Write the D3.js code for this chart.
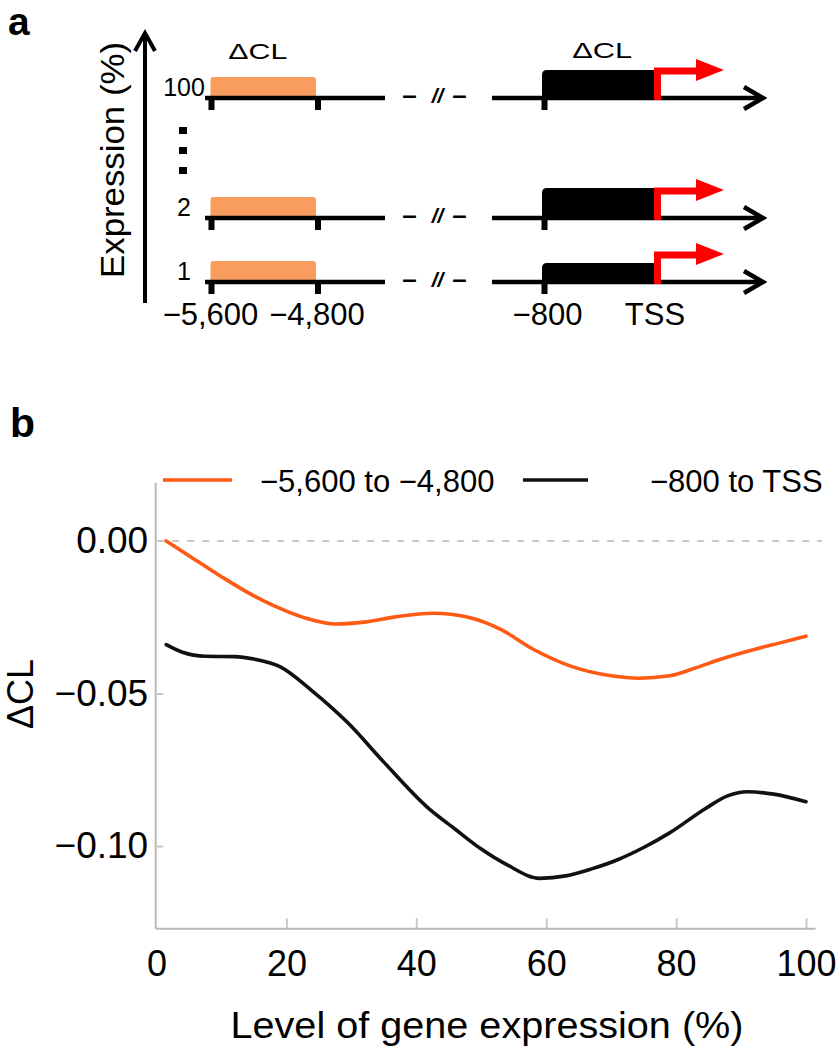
<!DOCTYPE html>
<html><head><meta charset="utf-8">
<script src="https://cdn.jsdelivr.net/npm/d3@7"></script>
<style>
body{margin:0;background:#fff}
svg{display:block}
text{font-family:"Liberation Sans",Arial,Helvetica,sans-serif;fill:#000}
</style>
</head><body>
<script>
// ---------------- data ----------------
// Panel a: schematic rows (expression percentiles) and genomic regions
const rowLevels = ["1", "2", "100"];
const distalRegion = [-5600, -4800];
const proximalRegion = [-800, 0];
const distalTickLabels = ["−5,600", "−4,800"];
const proximalTickLabels = ["−800", "TSS"];
const regionLabel = "ΔCL";
const panelAYLabel = "Expression (%)";

// Panel b: smoothed ΔCL versus level of gene expression
const seriesNames = ["−5,600 to −4,800", "−800 to TSS"];
const distalX = [1.5, 5, 10, 15, 20, 23, 27.5, 32, 37, 42.6, 48, 53, 58, 64, 70, 74.3, 79, 83, 87, 92, 96, 100];
const distalY = [0.000, -0.0048, -0.0117, -0.0180, -0.0230, -0.0253, -0.0272, -0.0266, -0.0248, -0.0237, -0.0250, -0.0290, -0.0355, -0.0412, -0.0442, -0.0450, -0.0442, -0.0416, -0.0387, -0.0356, -0.0334, -0.0312];
const proximalX = [1.5, 4, 7.5, 12, 15, 19, 24, 29.5, 35, 41.8, 46, 50, 54, 59, 63, 67, 71, 75, 79, 84.6, 88, 91, 95, 100];
const proximalY = [-0.0340, -0.0365, -0.0378, -0.0379, -0.0387, -0.0412, -0.0492, -0.0597, -0.0725, -0.0875, -0.0945, -0.1010, -0.1062, -0.1106, -0.1098, -0.1075, -0.1045, -0.1005, -0.0957, -0.0876, -0.0835, -0.0822, -0.0830, -0.0855];
const xTicks = [0, 20, 40, 60, 80, 100];
const yTicks = [0, -0.05, -0.10];
const xExtent = [-0.2, 101.4];
const yExtent = [-0.127, 0.0193];
const xLabel = "Level of gene expression (%)";
const yLabel = "ΔCL";

// ---------------- drawing ----------------
const W = 839, H = 1050;
const FONT = 'Liberation Sans, Arial, sans-serif';
const svg = d3.select("body").append("svg").attr("width", W).attr("height", H);

const ORANGE_BOX = "#f99d5e";
const RED = "#ff0000";
const LINE_ORANGE = "#ff5a14";
const LINE_BLACK = "#111111";
const seriesColors = [LINE_ORANGE, LINE_BLACK];

// ===== Panel a =====
svg.append("text").attr("x", 8).attr("y", 35).attr("font-size", 39).attr("font-weight", "bold").text("a");

const rowY = d3.scaleOrdinal().domain(rowLevels).range([282, 218, 98]);
const xL = d3.scaleLinear().domain(distalRegion).range([211.5, 318]);
const xR = d3.scaleLinear().domain(proximalRegion).range([544.5, 654]);
const boxH = d3.scaleOrdinal().domain(rowLevels).range([19, 30, 28]);

const ga = svg.append("g");

// vertical axis arrow
ga.append("line").attr("x1", 145).attr("x2", 145).attr("y1", 303).attr("y2", 35)
  .attr("stroke", "#000").attr("stroke-width", 4);
ga.append("path").attr("d", "M135,51 L145,33 L155,51").attr("fill", "none")
  .attr("stroke", "#000").attr("stroke-width", 4).attr("stroke-linejoin", "miter");
ga.append("text").attr("transform", "translate(124,160) rotate(-90)")
  .attr("text-anchor", "middle").attr("font-size", 33)
  .attr("textLength", 236).attr("lengthAdjust", "spacingAndGlyphs").text(panelAYLabel);

// ellipsis squares between row "2" and row "100"
const dotsTop = rowY("100") + 29;
[0, 1, 2].forEach(i => {
  ga.append("rect").attr("x", 179).attr("y", dotsTop + i * 20).attr("width", 8).attr("height", 7).attr("fill", "#000");
});

// region labels
ga.append("text").attr("x", (xL(distalRegion[0]) + xL(distalRegion[1])) / 2 - 7).attr("y", 59)
  .attr("text-anchor", "middle").attr("font-size", 22)
  .attr("textLength", 59).attr("lengthAdjust", "spacingAndGlyphs").text(regionLabel);
ga.append("text").attr("x", (xR(proximalRegion[0]) + xR(proximalRegion[1])) / 2 + 3).attr("y", 58)
  .attr("text-anchor", "middle").attr("font-size", 22)
  .attr("textLength", 60).attr("lengthAdjust", "spacingAndGlyphs").text(regionLabel);

rowLevels.forEach(lvl => {
  const y = rowY(lvl);
  const g = ga.append("g");
  // row label
  g.append("text").attr("x", 184).attr("y", y - 2).attr("text-anchor", "middle")
    .attr("font-size", 25).text(lvl);
  // orange distal box
  g.append("rect").attr("x", xL(distalRegion[0]) - 1).attr("y", y - 21)
    .attr("width", xL(distalRegion[1]) - xL(distalRegion[0]) - 1).attr("height", 22)
    .attr("rx", 3).attr("fill", ORANGE_BOX);
  // left track line
  g.append("line").attr("x1", xL.range()[0] - 6.5).attr("x2", 385).attr("y1", y).attr("y2", y)
    .attr("stroke", "#000").attr("stroke-width", 4.5);
  distalRegion.forEach(v => {
    g.append("rect").attr("x", xL(v) - 3).attr("y", y).attr("width", 6).attr("height", 12).attr("fill", "#000");
  });
  // break marks
  g.append("text").attr("x", 409.5).attr("y", y + 5.5).attr("text-anchor", "middle").attr("font-size", 26)
    .attr("font-weight", "bold").text("–");
  g.append("text").attr("x", 437.5).attr("y", y + 5).attr("text-anchor", "middle").attr("font-size", 21)
    .attr("font-style", "italic").attr("font-weight", "bold").text("//");
  g.append("text").attr("x", 459.5).attr("y", y + 5.5).attr("text-anchor", "middle").attr("font-size", 26)
    .attr("font-weight", "bold").text("–");
  // black proximal box with rounded top-left corner
  const bx0 = xR(proximalRegion[0]) - 2.5, bx1 = xR(proximalRegion[1]), bh = boxH(lvl), r = 5;
  g.append("path").attr("d",
    `M${bx0},${y} V${y - bh + r} Q${bx0},${y - bh} ${bx0 + r},${y - bh} H${bx1} V${y} Z`)
    .attr("fill", "#000");
  // right track line + arrow
  g.append("line").attr("x1", 492).attr("x2", 761).attr("y1", y).attr("y2", y)
    .attr("stroke", "#000").attr("stroke-width", 4.5);
  g.append("path").attr("d", `M744,${y - 11} L763,${y} L744,${y + 11}`).attr("fill", "none")
    .attr("stroke", "#000").attr("stroke-width", 4.5);
  g.append("rect").attr("x", xR(proximalRegion[0]) - 3).attr("y", y).attr("width", 6).attr("height", 12).attr("fill", "#000");
  // red TSS arrow
  const tx = xR(proximalRegion[1]) + 3.5;
  g.append("path").attr("d", `M${tx},${y + 2} V${y - 27} H${699}`).attr("fill", "none")
    .attr("stroke", RED).attr("stroke-width", 7).attr("stroke-linejoin", "miter");
  g.append("path").attr("d", `M696,${y - 39} L724,${y - 28} L696,${y - 17} Z`).attr("fill", RED);
});

// genomic coordinate labels
distalRegion.forEach((v, i) => {
  ga.append("text").attr("x", xL(v) - 1).attr("y", 325).attr("text-anchor", "middle")
    .attr("font-size", 31).text(distalTickLabels[i]);
});
proximalRegion.forEach((v, i) => {
  ga.append("text").attr("x", xR(v) + (i === 0 ? 3 : 1)).attr("y", 325).attr("text-anchor", "middle")
    .attr("font-size", 31).text(proximalTickLabels[i]);
});

// ===== Panel b =====
svg.append("text").attr("x", 10).attr("y", 437).attr("font-size", 41).attr("font-weight", "bold").text("b");

const x = d3.scaleLinear().domain([0, 100]).range([156.5, 806]);
const y = d3.scaleLinear().domain([0, -0.1]).range([541, 846]);

const gb = svg.append("g");

// zero reference line
gb.append("line").attr("x1", x(xExtent[0]) + 2).attr("x2", 822).attr("y1", y(0)).attr("y2", y(0))
  .attr("stroke", "#c8c8c8").attr("stroke-width", 2).attr("stroke-dasharray", "7,8");

// axes
const yAxisScale = y.copy().domain(yExtent).range([y(yExtent[0]), y(yExtent[1])]);
const yAxis = d3.axisLeft(yAxisScale).tickValues(yTicks).tickSizeInner(-8).tickSizeOuter(0).tickPadding(7)
  .tickFormat(d => (d < 0 ? "−" : "") + d3.format(".2f")(Math.abs(d)));
const gy = gb.append("g").attr("transform", `translate(${x(xExtent[0])},0)`).call(yAxis);
gy.select(".domain").attr("stroke", "#b8b8b8").attr("stroke-width", 2);
gy.selectAll(".tick line").attr("stroke", "#c8c8c8").attr("stroke-width", 2);
gy.selectAll(".tick text").attr("font-size", 37).attr("font-family", FONT).attr("fill", "#000");
gy.selectAll(".tick").filter(d => d === 0).select("line").remove();

const xAxisScale = x.copy().domain(xExtent).range([x(xExtent[0]), x(xExtent[1])]);
const xAxis = d3.axisBottom(xAxisScale).tickValues(xTicks).tickSizeInner(-10).tickSizeOuter(0).tickPadding(22)
  .tickFormat(d3.format("d"));
const gx = gb.append("g").attr("transform", `translate(0,${y(yExtent[0])})`).call(xAxis);
gx.select(".domain").attr("stroke", "#b8b8b8").attr("stroke-width", 2);
gx.selectAll(".tick line").attr("stroke", "#c8c8c8").attr("stroke-width", 2);
gx.selectAll(".tick").filter(d => d === 0).select("line").remove();
gx.selectAll(".tick text").attr("font-size", 36).attr("font-family", FONT).attr("fill", "#000");

// axis titles
gb.append("text").attr("x", 487).attr("y", 1038).attr("text-anchor", "middle").attr("font-size", 37)
  .attr("textLength", 513).attr("lengthAdjust", "spacingAndGlyphs").text(xLabel);
gb.append("text").attr("transform", "translate(33,694) rotate(-90)").attr("text-anchor", "middle")
  .attr("font-size", 36).text(yLabel);

// curves
const line = d3.line().x(d => x(d[0])).y(d => y(d[1])).curve(d3.curveMonotoneX);
const series = [d3.zip(distalX, distalY), d3.zip(proximalX, proximalY)];
series.forEach((pts, i) => {
  gb.append("path").datum(pts).attr("d", line).attr("fill", "none")
    .attr("stroke", seriesColors[i]).attr("stroke-width", 3.6).attr("stroke-linecap", "round");
});

// legend
const legendItems = [
  { x0: 163, x1: 232, tx: 260 },
  { x0: 523, x1: 588, tx: 650 }
];
legendItems.forEach((it, i) => {
  gb.append("line").attr("x1", it.x0).attr("x2", it.x1).attr("y1", 480).attr("y2", 480)
    .attr("stroke", seriesColors[i]).attr("stroke-width", 3.5);
  gb.append("text").attr("x", it.tx).attr("y", 492).attr("font-size", 31).text(seriesNames[i]);
});
</script>
</body></html>
